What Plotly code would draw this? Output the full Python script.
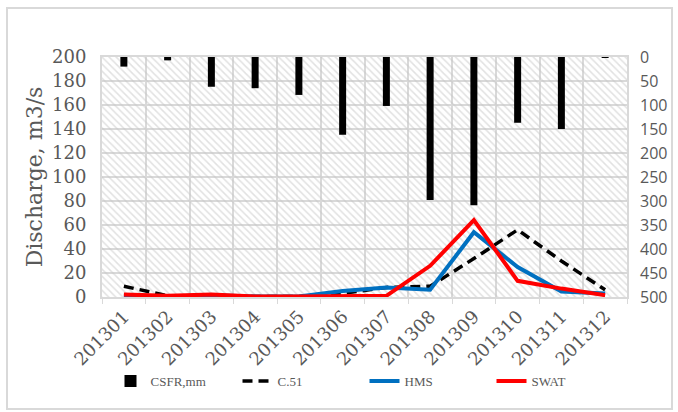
import plotly.graph_objects as go

months = ["201301", "201302", "201303", "201304", "201305", "201306",
          "201307", "201308", "201309", "201310", "201311", "201312"]
csfr_mm = [20, 7, 62, 65, 79, 162, 102, 298, 309, 137, 150, 2]
c51 = [9, 1, 0.5, 0.5, 0.5, 3, 8, 9, 32, 56, 30, 6]
hms = [1, 0.5, 1.5, 0.5, 0.5, 5, 8, 6, 54, 25, 4.5, 3]
swat = [2, 1, 2, 0.5, 0.5, 1, 1, 26, 64, 13.5, 7, 1.5]

left_range = [0, 200]
left_ticks = list(range(0, 201, 20))
right_range = [500, 0]
right_ticks = list(range(0, 501, 50))

GRID = "#d9d9d9"
TXT = "#595959"
SERIF_WIDE = "DejaVu Serif, serif"
SERIF = "Liberation Serif, Times New Roman, serif"
SANS = "Open Sans, sans-serif"

fig = go.Figure()

# hatched plot background (drawn in main subplot, below all other marks)
fig.add_trace(go.Bar(
    x=months, y=[left_range[1]] * len(months), width=1, yaxis="y",
    marker=dict(color="rgba(0,0,0,0)", line=dict(width=0),
                pattern=dict(shape="\\", fgcolor="#c4c4c4", bgcolor="rgba(0,0,0,0)",
                             size=5, solidity=0.3)),
    showlegend=False, hoverinfo="skip"))

fig.add_trace(go.Bar(
    x=months, y=csfr_mm, name="CSFR,mm", yaxis="y2", width=0.16,
    marker=dict(color="black", line=dict(width=0))))

fig.add_trace(go.Scatter(
    x=months, y=c51, name="C.51", mode="lines", yaxis="y",
    line=dict(color="black", width=3.5, dash="10px,6px")))
fig.add_trace(go.Scatter(
    x=months, y=hms, name="HMS", mode="lines", yaxis="y",
    line=dict(color="#0070C0", width=4)))
fig.add_trace(go.Scatter(
    x=months, y=swat, name="SWAT", mode="lines", yaxis="y",
    line=dict(color="#FF0000", width=4)))

fig.update_layout(
    width=678, height=412,
    margin=dict(l=102, r=51, t=57, b=115, autoexpand=False),
    paper_bgcolor="white", plot_bgcolor="white",
    barmode="overlay",
    showlegend=True,
    legend=dict(orientation="h", x=0.5, xanchor="center", y=-0.35, yanchor="middle",
                font=dict(family=SERIF, size=13, color=TXT), entrywidth=82,
                traceorder="normal"),
    xaxis=dict(type="category", range=[-0.5, 11.5], tickson="boundaries", automargin=False,
               showgrid=True, gridcolor=GRID, gridwidth=2,
               ticks="outside", ticklen=5, tickcolor=GRID,
               showline=True, linecolor=GRID, linewidth=2, mirror=True,
               tickangle=-45, tickfont=dict(family=SERIF_WIDE, size=18, color=TXT)),
    yaxis=dict(range=left_range, tickvals=left_ticks, showgrid=True, gridcolor=GRID,
               gridwidth=2, zeroline=False, showline=True, linecolor=GRID, linewidth=2,
               mirror=True, automargin=False, ticklabelstandoff=10,
               tickfont=dict(family=SERIF_WIDE, size=18, color=TXT),
               title=dict(text="Discharge, m3/s", standoff=3,
                          font=dict(family=SERIF_WIDE, size=22, color=TXT))),
    yaxis2=dict(range=right_range, tickvals=right_ticks, overlaying="y", side="right",
                showgrid=False, zeroline=False, automargin=False, ticklabelstandoff=12,
                tickfont=dict(family=SANS, size=16, color=TXT)),
    shapes=[dict(type="rect", xref="paper", yref="paper",
                 x0=(7 - 102) / 525, x1=(672 - 102) / 525,
                 y0=(297 - 409) / 240, y1=(297 - 8) / 240,
                 line=dict(color=GRID, width=2), fillcolor="rgba(0,0,0,0)", layer="below")],
)

fig.write_html("out.html", config={"displayModeBar": False},
               post_script="document.body.style.margin='0px';")
